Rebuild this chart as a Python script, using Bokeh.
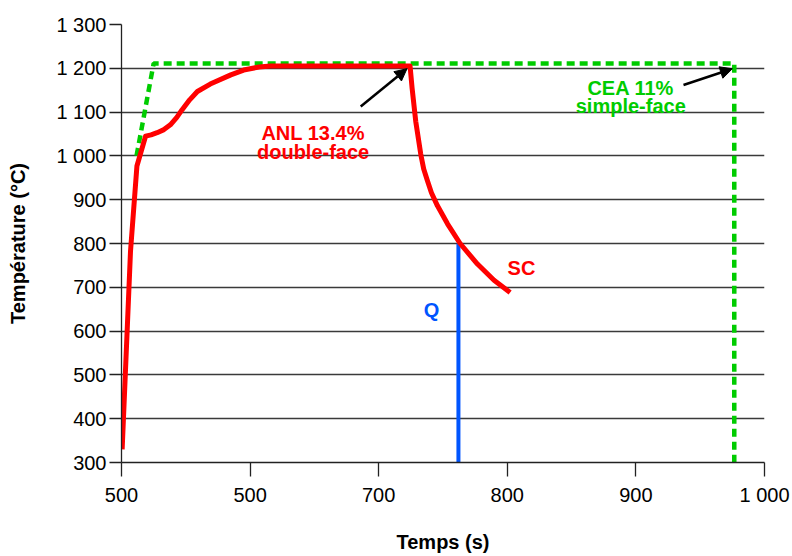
from bokeh.plotting import figure
from bokeh.models import FixedTicker, Label, Arrow, NormalHead, Range1d
from bokeh.embed import file_html
from bokeh.resources import INLINE

# ---- data ----
anl_time = [500.5, 507.0, 512.0, 518.7, 523.0, 527.7, 533.0, 538.0, 543.0, 547.0,
            553.0, 559.0, 569.0, 585.0, 595.0, 607.0, 616.0, 723.5, 724.4, 726.0,
            728.8, 732.7, 735.0, 737.9, 741.0, 745.7, 753.5, 763.3, 776.8, 789.7,
            802.2]
anl_temp = [330, 782, 977, 1045, 1048, 1053, 1060, 1071, 1088, 1105,
            1128, 1147, 1164, 1185, 1196, 1203, 1205, 1205, 1205, 1154,
            1079, 1004, 970, 943, 916, 886, 845, 800, 753, 716,
            688]

cea_time = [511.7, 525.0, 976.5, 976.5]
cea_temp = [1000, 1211, 1211, 300]

q_time = [762.0, 762.0]
q_temp = [800, 300]

x_ticks = [500, 600, 700, 800, 900, 1000]
x_tick_labels = ["500", "500", "700", "800", "900", "1 000"]
y_ticks = [300, 400, 500, 600, 700, 800, 900, 1000, 1100, 1200, 1300]
y_tick_labels = ["300", "400", "500", "600", "700", "800", "900",
                 "1 000", "1 100", "1 200", "1 300"]

RED = "#ff0000"
GREEN = "#00cc00"
BLUE = "#0055ff"
FONT = "Liberation Sans"

p = figure(width=791, height=555, output_backend="svg", toolbar_location=None,
           x_range=Range1d(500, 1000), y_range=Range1d(300, 1300),
           min_border_left=121, min_border_right=27, min_border_top=24,
           min_border_bottom=89)
p.outline_line_color = None
p.background_fill_color = "white"
p.border_fill_color = "white"

# grid
p.xgrid.visible = False
p.ygrid.ticker = FixedTicker(ticks=y_ticks)
p.ygrid.grid_line_color = "#3a3a3a"
p.ygrid.grid_line_width = 1.3

# axes
p.xaxis.ticker = FixedTicker(ticks=x_ticks)
p.xaxis.major_label_overrides = dict(zip(x_ticks, x_tick_labels))
p.yaxis.ticker = FixedTicker(ticks=y_ticks)
p.yaxis.major_label_overrides = dict(zip(y_ticks, y_tick_labels))
for ax in (p.xaxis[0], p.yaxis[0]):
    ax.axis_line_color = "#222222"
    ax.axis_line_width = 1.3
    ax.major_tick_line_color = "#222222"
    ax.major_tick_line_width = 1.3
    ax.major_tick_in = 0
    ax.minor_tick_line_color = None
    ax.major_label_text_font = FONT
    ax.major_label_text_font_size = "20px"
    ax.major_label_text_color = "black"
    ax.axis_label_text_font = FONT
    ax.axis_label_text_font_size = "20px"
    ax.axis_label_text_font_style = "bold"
    ax.axis_label_text_color = "black"

p.xaxis.axis_label = "Temps (s)"
p.xaxis.major_tick_out = 14
p.xaxis.major_label_standoff = 7
p.xaxis.axis_label_standoff = 22

p.yaxis.axis_label = "Température (°C)"
p.yaxis.major_tick_out = 12
p.yaxis.major_label_standoff = 3
p.yaxis.axis_label_standoff = 24

# series
p.line(cea_time, cea_temp, line_color=GREEN, line_width=4.5, line_dash="8 5")
p.line(q_time, q_temp, line_color=BLUE, line_width=4)
p.line(anl_time, anl_temp, line_color=RED, line_width=5, line_join="round")

# arrows
p.add_layout(Arrow(x_start=686, y_start=1113, x_end=722, y_end=1199,
                   line_color="black", line_width=2.5,
                   end=NormalHead(size=12, fill_color="black", line_color="black")))
p.add_layout(Arrow(x_start=937, y_start=1162, x_end=975, y_end=1199,
                   line_color="black", line_width=2.5,
                   end=NormalHead(size=12, fill_color="black", line_color="black")))

# labels
def lab(x, y, txt, color, baseline="alphabetic"):
    p.add_layout(Label(x=x, y=y, text=txt, text_color=color, text_font=FONT,
                       text_font_size="20px", text_font_style="bold",
                       text_align="center", text_baseline=baseline))

lab(649, 1053, "ANL 13.4%", RED)
lab(649, 1010, "double-face", RED)
lab(896, 1155, "CEA 11%", GREEN)
lab(896, 1114, "simple-face", GREEN)
lab(811, 743, "SC", RED)
lab(741, 648, "Q", BLUE)

open("out.html", "w").write(file_html(p, INLINE))
